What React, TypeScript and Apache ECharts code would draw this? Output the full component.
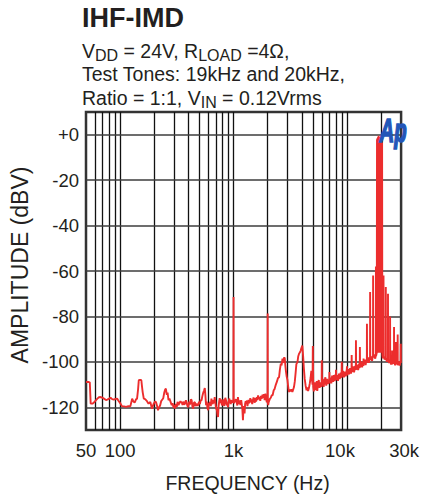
import React, { useEffect, useRef } from "react";
import * as echarts from "echarts";

const FONT = "'Liberation Sans', Arial, Helvetica, sans-serif";
const INK = "#231f20";

// x-axis grid frequencies (Hz) and y-axis grid levels (dBV)
const gridFreqs = [60, 70, 80, 90, 100, 200, 300, 400, 500, 600, 700, 800, 900, 1000, 2000, 3000, 4000, 5000, 6000, 7000, 8000, 9000, 10000, 20000];
const gridLevels = [0, -20, -40, -60, -80, -100, -120];

// Measured spectrum [frequency Hz, amplitude dBV]
const traceLow: [number, number][] = [
  [50, -108.9], [53, -108.9], [54, -109], [55, -118.4], [57, -118.4], [59, -117.8], [61, -117], [63, -116.2],
  [65, -115.6], [67.4, -115.5], [70, -115.8], [72, -116.2], [75, -116.8], [77, -116.6], [80, -116.2], [82.4, -115.8],
  [85, -116.4], [88, -116.6], [91, -116.3], [94, -116.2], [97, -117.2], [100.8, -118.4], [104, -119.6], [108, -119.6],
  [113, -119.8], [118, -119.5], [123, -119.6], [127.6, -116.2], [131, -117.5], [134.7, -117.8], [138, -116.5], [141, -116.2],
  [144, -112], [146, -108.1], [150, -107.9], [153.8, -108.1], [156, -111], [158, -113.3], [161.6, -116.2], [166, -116.4],
  [172.5, -117.3], [178, -118.4], [184.5, -117.7], [190.8, -120.6], [197.7, -118.4], [203, -117.5], [207, -117.7], [212, -119.5],
  [215.6, -121.3], [220, -120.2], [225.4, -119.1], [230, -117.3], [233, -116.9], [240, -116], [245, -113.5], [249, -112.3],
  [253, -111.8], [258, -114.5], [262, -113.5], [267, -116.9], [272, -116.2], [278, -117.5], [285, -119.1], [290, -118.2],
  [296, -120.2], [300, -119], [305, -120.6], [311, -118.5], [316, -119.8], [321, -117.6], [327, -119.1], [333, -118.2],
  [340, -117.3], [345, -117.9], [349, -117.7], [355, -119], [361, -117.5], [367, -118.8], [373, -118.4], [380, -116.9],
  [386, -118], [392, -119.4], [399, -119.9], [406, -117.5], [413, -118.8], [420, -116.5], [427, -116.9], [434, -119.7],
  [441, -120.6], [448, -118], [456, -117.7], [463, -119.5], [471, -118.4], [480, -119.1], [488, -119.1], [496, -117.5],
  [505, -118.6], [513, -116.9], [522, -116.9], [530, -115.2], [540, -113.6], [550, -112.5], [558, -111.5], [565, -115],
  [572, -119.1], [580, -117.5], [588, -120.2], [597, -121.3], [605, -118.5], [613, -118.2], [622, -117.7], [630, -119.5],
  [638, -116.2], [647, -117.9], [655, -118.6], [663, -116.8], [672, -118.2], [682, -115.5], [690, -117.5], [698, -119.8],
  [706, -120.8], [715, -121.5], [722, -123.5], [730, -124.3], [738, -119.5], [746, -117.6], [755, -116], [764, -118.2],
  [772, -116.5], [781, -117.7], [790, -119.2], [800, -118.4], [810, -116.5], [820, -118.8], [828, -119.4], [835, -118.4],
  [845, -115.8], [853, -116.5], [862, -117.3], [872, -119.2], [882, -118], [893, -119.9], [903, -117.8], [915, -116.2],
  [925, -116.9], [935, -117.8], [945, -118.6], [955, -116.8], [965, -117.5], [975, -117.1], [985, -118], [993, -117.5],
  [997, -117], [1000, -71.5], [1003, -117.8],
];

const traceMid: [number, number][] = [
  [1010, -118.2], [1020, -118.4], [1035, -117], [1050, -116.5], [1065, -117.7], [1080, -119.2], [1093, -115.5], [1105, -117.5],
  [1120, -118.5], [1135, -117], [1150, -119], [1168, -116.9], [1180, -118.5], [1195, -120.5], [1210, -125.7], [1222, -121],
  [1235, -119.5], [1250, -122.7], [1265, -118.4], [1280, -117.3], [1295, -118.6], [1310, -117], [1325, -119.5], [1340, -118],
  [1355, -116.8], [1370, -118.2], [1390, -117.5], [1405, -116], [1420, -117.8], [1440, -116.5], [1460, -118.6], [1480, -117.3],
  [1500, -115.7], [1520, -116.8], [1540, -118], [1560, -116], [1580, -117.5], [1600, -115.5], [1620, -116.8], [1645, -114.8],
  [1670, -116.5], [1695, -115.4], [1720, -117.2], [1745, -115], [1770, -116.3], [1800, -114.5], [1825, -115.8], [1850, -114.2],
  [1880, -116.8], [1910, -114], [1940, -116.5], [1965, -117.8], [1985, -116.4], [1995, -117], [2000, -78.7], [2005, -118],
  [2020, -119], [2040, -117.7], [2060, -117.7], [2090, -116.3], [2130, -115.8], [2170, -114.7], [2210, -114.7], [2260, -112.5],
  [2300, -112], [2360, -110], [2420, -108.5], [2460, -107.2], [2520, -106.7], [2560, -103.5], [2610, -100.8], [2650, -101.5],
  [2700, -98.6], [2740, -100.5], [2760, -99], [2800, -98], [2830, -98.5], [2860, -101.5], [2890, -103.7], [2940, -106.5],
  [2990, -108.1], [3040, -111.5], [3090, -113.3], [3140, -112.2], [3190, -113], [3240, -112.1], [3300, -113.3], [3350, -112.3],
  [3410, -111.1], [3470, -108.5], [3530, -104.5], [3580, -101], [3660, -100.1], [3720, -97.5], [3780, -96.4], [3850, -95.8],
  [3910, -95], [3960, -94], [4040, -92.8], [4100, -97], [4170, -103], [4240, -107.5], [4320, -110.5], [4400, -112.5],
  [4470, -111.3], [4540, -112.8], [4620, -111.5], [4700, -109.5], [4780, -107], [4850, -104], [4920, -108], [4970, -110],
];

const traceHigh: [number, number][] = [
  [5000, -93], [5040, -111], [5100, -113], [5180, -109], [5260, -112.5], [5340, -110], [5420, -108.5], [5470, -112.8],
  [5550, -110], [5640, -108], [5740, -111.5], [5840, -109], [5930, -111], [5980, -109.5], [6000, -99.3], [6030, -110.5],
  [6120, -107.5], [6230, -111], [6340, -108.5], [6450, -106.8], [6560, -110.5], [6680, -107.5], [6800, -109.8], [6900, -107.8],
  [6980, -109], [7000, -104.5], [7030, -109.5], [7150, -107], [7280, -109.5], [7400, -106], [7530, -108.8], [7660, -105.8],
  [7800, -108.5], [7920, -105.5], [7980, -107.5], [8000, -103.5], [8040, -108], [8180, -105.8], [8330, -108.4], [8480, -105.2],
  [8630, -107.6], [8800, -104.8], [8950, -107], [9000, -100], [9060, -106.5], [9230, -104], [9400, -106.8], [9580, -104.3],
  [9760, -106.4], [9950, -103.8], [10000, -102], [10060, -106], [10250, -103.2], [10450, -105.5], [10650, -102.8], [10850, -105.2],
  [10970, -103.5], [11000, -97], [11050, -104.5], [11300, -102], [11550, -104.6], [11800, -101.8], [11970, -103.6], [12000, -90.5],
  [12040, -103.4], [12300, -101.2], [12550, -103.6], [12800, -100.8], [12970, -102.8], [13000, -93.5], [13040, -102.2], [13300, -99.8],
  [13600, -102.4], [13850, -100], [13970, -101.8], [14000, -98.5], [14040, -101], [14300, -99], [14600, -101.4], [14850, -99],
  [14970, -100.4], [15000, -83.2], [15040, -100], [15300, -98], [15600, -100.4], [15850, -98], [15970, -99.2], [16000, -69.3],
  [16040, -99], [16300, -97.6], [16650, -99.6], [16900, -97.4], [16970, -98.2], [17000, -62], [17040, -98], [17400, -96.8],
  [17750, -98.6], [17970, -97], [18000, -58], [18050, -97.4], [18300, -96],
];

// The two test tones (19 kHz and 20 kHz) with their window skirts: a solid bar
const toneBand: [number, number][] = [
  [18400, -2], [18500, -96], [18600, -1.5], [18700, -96], [18800, -1], [18900, -96], [19000, -0.5], [19100, -96],
  [19200, -1], [19300, -96], [19400, -1], [19500, -96], [19600, -1], [19700, -96], [19800, -1], [19900, -96],
  [20000, -0.5], [20100, -96], [20200, -1], [20300, -96], [20400, -1.5], [20500, -97],
];

const traceTop: [number, number][] = [
  [20700, -98.5], [20970, -97], [21000, -62], [21040, -97.5], [21500, -99], [21970, -97.6], [22000, -67],
  [22040, -98.2], [22500, -100], [22970, -98.4], [23000, -70], [23040, -99], [23500, -100.5], [23970, -99], [24000, -80],
  [24040, -99.6], [24500, -101.2], [24970, -99.5], [25000, -95], [25040, -101], [25500, -99.6], [25970, -100.8], [26000, -84.7],
  [26040, -99.5], [26600, -101.5], [26970, -100], [27000, -91.3], [27040, -101], [27500, -100], [27970, -99.4], [28000, -88],
  [28040, -101.5], [28600, -99.8], [29200, -101.6], [29700, -99.6], [29800, -92], [29850, -100.5], [30000, -100.7],
];

const xLabel = (v: number) => {
  const r = Math.round(v);
  if (r >= 1000) {
    const s = r / 1000 + "k";
    if (r === 10000) return "{l|" + s + "}";
    if (r === 30000) return "{r|" + s + "}";
    return s;
  }
  return String(r);
};

export default function App() {
  const ref = useRef<HTMLDivElement>(null);
  useEffect(() => {
    if (!ref.current) return;
    const chart = echarts.init(ref.current, undefined, { renderer: "svg" });
    const trace = [...traceLow, ...traceMid, ...traceHigh, ...toneBand, ...traceTop];
    const gridMarks = [
      ...gridFreqs.map((f) => ({ xAxis: f, lineStyle: { color: "#111", width: 1.3, type: "solid" as const } })),
      ...gridLevels.map((l) => ({ yAxis: l, lineStyle: { color: "#3c3c3c", width: 1.6, type: "solid" as const } })),
    ];
    chart.setOption({
      animation: false,
      backgroundColor: "#ffffff",
      title: [
        {
          text: "IHF-IMD",
          left: 82,
          top: 4,
          padding: 0,
          textStyle: { fontFamily: FONT, fontSize: 27, fontWeight: "bold", color: INK, lineHeight: 27 },
        },
        {
          text:
            "{n|V}{s|DD}{n| = 24V, R}{s|LOAD}{n| =4Ω,}\n{n|Test Tones: 19kHz and 20kHz,}\n{n|Ratio = 1:1, V}{s|IN}{n| = 0.12Vrms}",
          left: 82,
          top: 39,
          padding: 0,
          textStyle: {
            fontFamily: FONT,
            color: INK,
            fontWeight: "normal",
            rich: {
              n: { fontFamily: FONT, fontSize: 19.5, color: INK, lineHeight: 23.5 },
              s: { fontFamily: FONT, fontSize: 16, color: INK, lineHeight: 23.5, padding: [10, 0, 0, 0] },
            },
          },
        },
      ],
      grid: {
        left: 83.5,
        right: 20.7,
        top: 112,
        bottom: 67,
        show: true,
        borderColor: "#333",
        borderWidth: 2.5,
        backgroundColor: "transparent",
        containLabel: false,
      },
      xAxis: {
        type: "log",
        logBase: 10,
        min: 50,
        max: 30000,
        name: "FREQUENCY (Hz)",
        nameLocation: "middle",
        nameGap: 43,
        nameTextStyle: { fontFamily: FONT, fontSize: 19.5, color: INK, padding: [0, 0, 0, 8] },
        axisLine: { show: false },
        axisTick: { show: false },
        splitLine: { show: false },
        minorSplitLine: { show: false },
        axisLabel: {
          show: true,
          interval: 0,
          showMinLabel: true,
          showMaxLabel: true,
          margin: 11,
          fontFamily: FONT,
          fontSize: 18.5,
          color: INK,
          formatter: xLabel,
          rich: {
            l: { fontFamily: FONT, fontSize: 18.5, color: INK, padding: [0, 14, 0, 0] },
            r: { fontFamily: FONT, fontSize: 18.5, color: INK, padding: [0, 0, 0, 6] },
          },
        },
      },
      yAxis: {
        type: "value",
        min: -130,
        max: 10,
        interval: 10,
        name: "AMPLITUDE (dBV)",
        nameLocation: "middle",
        nameRotate: 90,
        nameGap: 55,
        nameTextStyle: { fontFamily: FONT, fontSize: 23, color: INK, padding: [0, 0, 0, 12] },
        axisLine: { show: false },
        axisTick: { show: false },
        splitLine: { show: false },
        axisLabel: {
          margin: 7,
          fontFamily: FONT,
          fontSize: 18.5,
          color: INK,
          verticalAlign: "middle",
          padding: [0, 0, 6, 0],
          formatter: (v: number) => {
            if (v % 20 !== 0 || v > 0 || v < -120) return "";
            return v === 0 ? "+0" : String(v);
          },
        },
      },
      series: [
        {
          type: "line",
          data: [],
          silent: true,
          z: 1,
          markLine: {
            silent: true,
            z: 1,
            symbol: ["none", "none"],
            label: { show: false },
            emphasis: { disabled: true },
            data: gridMarks,
          },
        },
        {
          type: "line",
          data: trace,
          z: 3,
          showSymbol: false,
          silent: true,
          clip: true,
          lineStyle: { color: "#ec2d2d", width: 1.9 },
        },
      ],
      graphic: [
        {
          type: "text",
          left: 379,
          top: 113,
          z: 10,
          scaleX: 0.62,
          style: {
            text: "Ap",
            font: "italic bold 33px 'Liberation Sans', Arial, sans-serif",
            fill: "#2356b8",
            stroke: "#2356b8",
            lineWidth: 1.6,
          },
        },
      ],
    });
    return () => chart.dispose();
  }, []);
  return (
    <div
      ref={ref}
      style={{ position: "fixed", left: 0, top: 0, width: 422, height: 498, background: "#fff" }}
    />
  );
}
